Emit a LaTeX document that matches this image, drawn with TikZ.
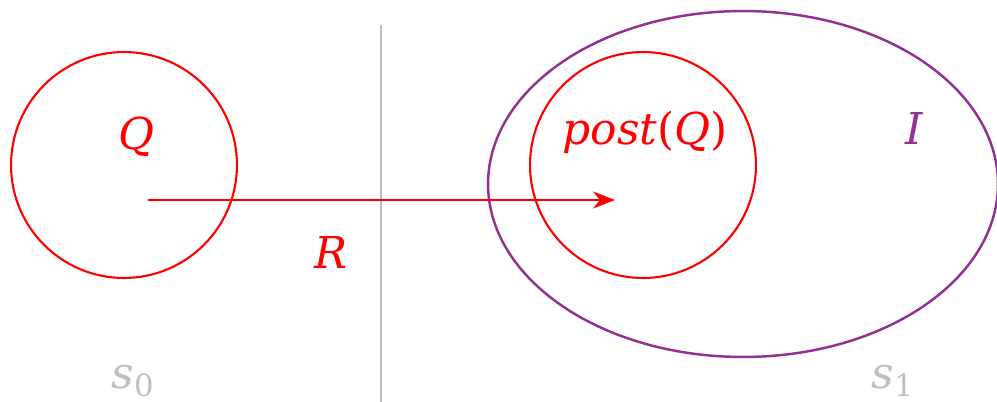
\documentclass[tikz,border=0pt]{standalone}
\usepackage{fontspec}
\setmainfont{Liberation Serif}
\newfontfamily\labfont{DejaVu Serif}
\usetikzlibrary{arrows.meta,shapes.geometric}

\definecolor{setred}{RGB}{255,0,0}
\definecolor{setpurple}{RGB}{146,48,150}
\definecolor{sepgray}{RGB}{192,192,192}

\begin{document}
\begin{tikzpicture}[
  x=0.02cm, y=0.02cm,
  setc/.style={draw=setred, line width=1.2pt, circle, minimum size=4.52cm, inner sep=0pt},
  inv/.style={draw=setpurple, line width=1.4pt, ellipse, minimum width=10.2cm, minimum height=6.92cm, inner sep=0pt},
  arr/.style={-{Stealth[length=4.4mm, width=3.4mm]}, line width=1.2pt, draw=setred},
  lab/.style={font=\labfont\fontsize{25}{30}\selectfont\itshape, inner sep=0pt},
  st/.style={lab, text=sepgray}
]
\useasboundingbox (0,0) rectangle (997,-402);

% ---------------- separator between the two states ----------------
\coordinate (septop) at (381,-25);
\coordinate (sepbot) at (381,-402);
\draw[sepgray, line width=1.2pt] (septop) -- (sepbot);

% ---------------- state s0 ----------------
\node[setc] (qset) at (124,-165) {};
\node[lab, text=setred] (qlab) at (137,-137) {Q};
\node[st] (s0) at (133,-381) {s\textsubscript{\upshape 0}};

% ---------------- state s1 ----------------
\node[inv] (invset) at (743,-184) {};
\node[setc] (postset) at (643,-165) {};
\node[lab, text=setred] (postlab) at (645,-132) {post{\upshape(}Q{\upshape)}};
\node[lab, text=setpurple] (ilab) at (914,-128) {I};
\node[st] (s1) at (893,-381) {s\textsubscript{\upshape 1}};

% ---------------- transition ----------------
\coordinate (from) at (148,-200);
\coordinate (to) at (615,-200);
\draw[arr] (from) -- (to);
\node[lab, text=setred] (rlab) at (331,-252) {R};

\end{tikzpicture}
\end{document}
